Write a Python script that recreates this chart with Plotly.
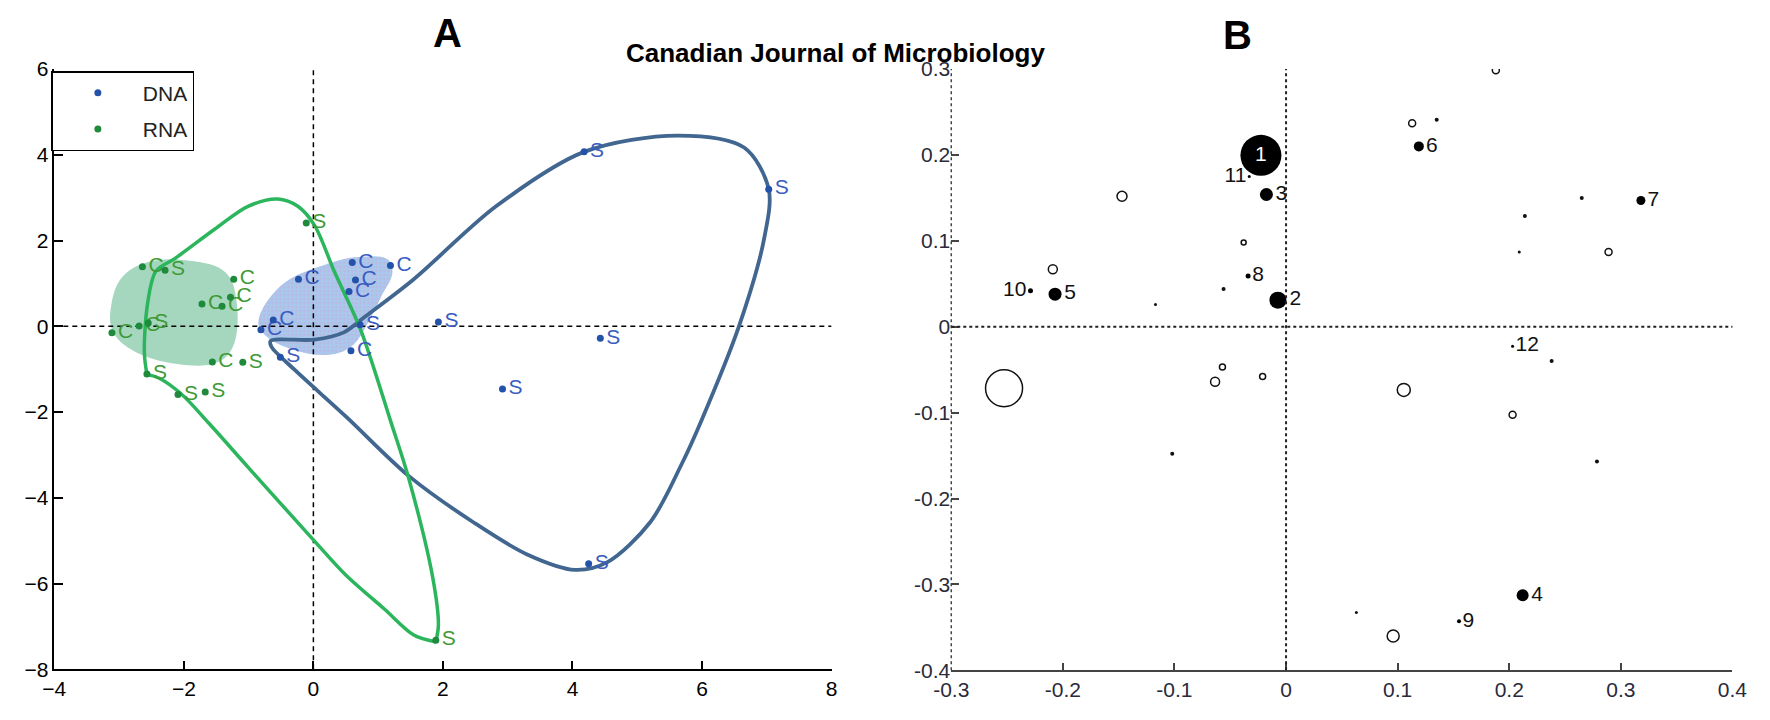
import plotly.graph_objects as go

# ---------------- Panel A data ----------------
DNA_X = [-0.23, 0.60, 1.19, 0.65, 0.55, -0.62, -0.81, -0.51, 0.58, 0.72, 1.93, 4.18, 7.03, 4.43, 2.92, 4.25]
DNA_Y = [1.10, 1.49, 1.42, 1.08, 0.81, 0.15, -0.08, -0.72, -0.57, 0.04, 0.10, 4.07, 3.20, -0.28, -1.46, -5.54]
DNA_LAB = ["C", "C", "C", "C", "C", "C", "C", "S", "C", "S", "S", "S", "S", "S", "S", "S"]

RNA_X = [-2.64, -2.29, -1.23, -1.72, -1.28, -1.41, -3.11, -2.69, -2.55, -2.57, -2.09, -1.67, -1.56, -1.09, -0.11, 1.89]
RNA_Y = [1.39, 1.31, 1.10, 0.52, 0.68, 0.47, -0.15, 0.01, 0.08, -1.11, -1.59, -1.53, -0.83, -0.84, 2.41, -7.32]
RNA_LAB = ["C", "S", "C", "C", "C", "C", "C", "C", "S", "S", "S", "S", "C", "S", "S", "S"]

# hand-drawn envelopes (trajectory curves) and shaded clusters
DNA_CURVE_X = [-0.66, 0.02, 0.47, 0.80, 1.55, 2.82, 4.18, 5.63, 6.65, 7.03, 6.96, 6.57, 5.99,
               5.69, 5.20, 4.54, 4.04, 3.30, 2.47, 1.48, 0.50, -0.30, -0.65, -0.66]
DNA_CURVE_Y = [-0.34, -0.31, -0.14, 0.23, 1.10, 2.80, 4.07, 4.45, 4.17, 3.20, 2.05, 0.00, -2.20,
               -3.20, -4.57, -5.50, -5.68, -5.32, -4.57, -3.50, -2.10, -1.00, -0.47, -0.34]

RNA_CURVE1_X = [-2.57, -2.61, -2.56, -2.43, -2.13, -1.52, -1.01, -0.55, -0.24, 0.02, 0.32, 0.73,
                1.19, 1.48, 1.85, 1.93, 1.89]
RNA_CURVE1_Y = [-1.12, -0.61, 0.53, 1.29, 1.59, 2.27, 2.80, 2.97, 2.80, 2.35, 1.29, -0.08,
                -2.20, -3.59, -5.92, -6.97, -7.36]
RNA_CURVE2_X = [1.89, 1.55, 1.10, 0.50, 0.00, -1.00, -1.62, -2.03, -2.38, -2.57]
RNA_CURVE2_Y = [-7.36, -7.20, -6.60, -5.80, -4.98, -3.30, -2.25, -1.59, -1.21, -1.12]

RNA_BLOB_X = [-3.12, -2.95, -2.55, -1.90, -1.35, -1.18, -1.25, -1.50, -2.10, -2.80, -3.10, -3.12]
RNA_BLOB_Y = [0.50, 1.15, 1.50, 1.53, 1.25, 0.50, -0.50, -0.85, -0.88, -0.55, -0.10, 0.50]
DNA_BLOB_X = [-0.85, -0.50, 0.20, 0.70, 1.15, 1.22, 1.05, 0.85, 0.60, 0.25, -0.30, -0.75, -0.85]
DNA_BLOB_Y = [0.10, 0.95, 1.45, 1.62, 1.56, 1.25, 0.70, 0.10, -0.45, -0.66, -0.55, -0.20, 0.10]

A_XRANGE = [-4, 8]
A_YRANGE = [-8, 6]
A_XTICKS = [-4, -2, 0, 2, 4, 6, 8]
A_YTICKS = [-8, -6, -4, -2, 0, 2, 4, 6]

# ---------------- Panel B data ----------------
B_LAB = ["1", "2", "3", "4", "5", "6", "7", "8", "9", "10", "11", "12"]
B_LAB_X = [-0.0225, -0.0073, -0.0176, 0.212, -0.207, 0.119, 0.318, -0.034, 0.155, -0.229, -0.033, 0.203]
B_LAB_Y = [0.1996, 0.031, 0.154, -0.3127, 0.038, 0.210, 0.147, 0.059, -0.343, 0.042, 0.175, -0.0226]
B_LAB_SIZE = [41, 17, 13, 12, 13, 10, 9, 5, 4, 5, 3, 3]

B_OPEN_X = [-0.147, -0.209, -0.2527, -0.0636, 0.1055, 0.096, 0.203, 0.188, 0.113, 0.289, -0.038, -0.057, -0.021]
B_OPEN_Y = [0.152, 0.067, -0.0716, -0.064, -0.0735, -0.360, -0.1025, 0.2987, 0.237, 0.087, 0.098, -0.047, -0.058]
B_OPEN_SIZE = [10, 9, 37, 9, 13, 12, 7, 7, 7, 7, 5, 6, 6]

B_DOT_X = [-0.056, -0.117, 0.135, 0.265, 0.214, 0.209, 0.238, -0.102, 0.2786, 0.063]
B_DOT_Y = [0.044, 0.026, 0.241, 0.150, 0.129, 0.087, -0.040, -0.148, -0.157, -0.3326]
B_DOT_SIZE = [4, 3, 4, 4, 4, 3, 4, 4, 4, 3]

B_XRANGE = [-0.3, 0.4]
B_YRANGE = [-0.4, 0.3]
B_XTICKS = [-0.3, -0.2, -0.1, 0, 0.1, 0.2, 0.3, 0.4]
B_XTICKTEXT = ["-0.3", "-0.2", "-0.1", "0", "0.1", "0.2", "0.3", "0.4"]
B_YTICKS = [-0.4, -0.3, -0.2, -0.1, 0, 0.1, 0.2, 0.3]
B_YTICKTEXT = ["-0.4", "-0.3", "-0.2", "-0.1", "0", "0.1", "0.2", "0.3"]

# ---------------- styles ----------------
FONT = "Liberation Sans, Arial, sans-serif"
BLUE_PT = "#2452a8"
BLUE_TXT = "#3a5cc0"
GREEN_PT = "#1f8a3c"
GREEN_TXT = "#3f9a35"
BLUE_LINE = "#41668f"
GREEN_LINE = "#2bb55c"

W, H = 1770, 720
fig = go.Figure()

# Panel A: shaded clusters
fig.add_trace(go.Scatter(x=RNA_BLOB_X, y=RNA_BLOB_Y, mode="lines", fill="toself",
                         fillcolor="#a5d7bf", line=dict(color="rgba(0,0,0,0)", shape="spline", smoothing=1.1),
                         showlegend=False, hoverinfo="skip", xaxis="x", yaxis="y"))
fig.add_trace(go.Scatter(x=DNA_BLOB_X, y=DNA_BLOB_Y, mode="lines", fill="toself",
                         fillcolor="#a9c7ea",
                         fillpattern=dict(shape=".", bgcolor="#aac8ec", fgcolor="#c4a9d8", size=4, solidity=0.3),
                         line=dict(color="rgba(0,0,0,0)", shape="spline", smoothing=1.1),
                         showlegend=False, hoverinfo="skip", xaxis="x", yaxis="y"))
# dashed reference lines
fig.add_trace(go.Scatter(x=A_XRANGE, y=[0, 0], mode="lines", line=dict(color="black", width=1.5, dash="5px,4px"),
                         showlegend=False, hoverinfo="skip", xaxis="x", yaxis="y"))
fig.add_trace(go.Scatter(x=[0, 0], y=A_YRANGE, mode="lines", line=dict(color="black", width=1.5, dash="5px,4px"),
                         showlegend=False, hoverinfo="skip", xaxis="x", yaxis="y"))
# curves
fig.add_trace(go.Scatter(x=DNA_CURVE_X, y=DNA_CURVE_Y, mode="lines",
                         line=dict(color=BLUE_LINE, width=3.8, shape="spline", smoothing=0.9),
                         showlegend=False, hoverinfo="skip", xaxis="x", yaxis="y"))
fig.add_trace(go.Scatter(x=RNA_CURVE1_X, y=RNA_CURVE1_Y, mode="lines",
                         line=dict(color=GREEN_LINE, width=3.5, shape="spline", smoothing=0.9),
                         showlegend=False, hoverinfo="skip", xaxis="x", yaxis="y"))
fig.add_trace(go.Scatter(x=RNA_CURVE2_X, y=RNA_CURVE2_Y, mode="lines",
                         line=dict(color=GREEN_LINE, width=3.5, shape="spline", smoothing=0.9),
                         showlegend=False, hoverinfo="skip", xaxis="x", yaxis="y"))
# labels (invisible markers + text)
fig.add_trace(go.Scatter(x=DNA_X, y=DNA_Y, mode="markers+text", text=DNA_LAB, textposition="middle right",
                         marker=dict(size=8, opacity=0), textfont=dict(family=FONT, size=21, color=BLUE_TXT),
                         showlegend=False, hoverinfo="skip", xaxis="x", yaxis="y"))
fig.add_trace(go.Scatter(x=RNA_X, y=RNA_Y, mode="markers+text", text=RNA_LAB, textposition="middle right",
                         marker=dict(size=8, opacity=0), textfont=dict(family=FONT, size=21, color=GREEN_TXT),
                         showlegend=False, hoverinfo="skip", xaxis="x", yaxis="y"))
# points (legend)
fig.add_trace(go.Scatter(x=DNA_X, y=DNA_Y, mode="markers", name="DNA",
                         marker=dict(size=7, color=BLUE_PT, opacity=1), xaxis="x", yaxis="y", legendgroup="a"))
fig.add_trace(go.Scatter(x=RNA_X, y=RNA_Y, mode="markers", name="RNA",
                         marker=dict(size=7, color=GREEN_PT, opacity=1), xaxis="x", yaxis="y", legendgroup="b"))

# Panel B
fig.add_trace(go.Scatter(x=B_OPEN_X, y=B_OPEN_Y, mode="markers",
                         marker=dict(size=B_OPEN_SIZE, color="white", opacity=1, line=dict(color="#111", width=1.5)),
                         showlegend=False, hoverinfo="skip", xaxis="x2", yaxis="y2"))
fig.add_trace(go.Scatter(x=B_DOT_X, y=B_DOT_Y, mode="markers",
                         marker=dict(size=B_DOT_SIZE, color="#111", opacity=1, line=dict(width=0)),
                         showlegend=False, hoverinfo="skip", xaxis="x2", yaxis="y2"))
b_pos = ["middle center" if l == "1" else ("middle left" if l in ("10", "11") else "middle right") for l in B_LAB]
b_col = ["white" if l == "1" else "#111" for l in B_LAB]
fig.add_trace(go.Scatter(x=B_LAB_X, y=B_LAB_Y, mode="markers+text", text=B_LAB, textposition=b_pos,
                         marker=dict(size=B_LAB_SIZE, color="black", opacity=1, line=dict(width=0)),
                         textfont=dict(family=FONT, size=21, color=b_col),
                         showlegend=False, hoverinfo="skip", xaxis="x2", yaxis="y2"))

axA = dict(showgrid=False, zeroline=False, showline=True, linecolor="black", linewidth=1.5,
           ticks="inside", ticklen=9, tickwidth=1.5, tickcolor="black",
           tickfont=dict(family=FONT, size=21, color="black"))
axB = dict(showgrid=False, zeroline=False, showline=True, linecolor="#444", linewidth=1.5,
           ticks="inside", ticklen=8, tickwidth=1.5, tickcolor="#444",
           tickfont=dict(family=FONT, size=21, color="#2a2a3a"))

fig.update_layout(
    width=W, height=H, margin=dict(l=0, r=0, t=0, b=0),
    paper_bgcolor="white", plot_bgcolor="white",
    xaxis=dict(axA, domain=[37 / W, 829 / W], range=A_XRANGE, tickvals=A_XTICKS, anchor="y"),
    yaxis=dict(axA, domain=[(H - 679) / H, (H - 59) / H], range=A_YRANGE, tickvals=A_YTICKS, anchor="x"),
    xaxis2=dict(axB, domain=[951 / W, 1747 / W], range=B_XRANGE, tickvals=B_XTICKS, ticktext=B_XTICKTEXT, anchor="y2"),
    yaxis2=dict(axB, domain=[(H - 680) / H, (H - 59) / H], range=B_YRANGE, tickvals=B_YTICKS, ticktext=B_YTICKTEXT,
                anchor="x2", showline=False),
    legend=dict(x=34 / W, y=1 - 61 / H, xanchor="left", yanchor="top", bgcolor="white",
                bordercolor="black", borderwidth=1.5, font=dict(family=FONT, size=21, color="#222"),
                itemwidth=80, entrywidth=78, entrywidthmode="pixels",
                traceorder="grouped", tracegroupgap=6),
    showlegend=True,
    shapes=[
        dict(type="line", xref="x2 domain", yref="y2 domain", x0=0, x1=0, y0=0, y1=1,
             line=dict(color="#444", width=1.5, dash="dot")),
        dict(type="line", xref="x2", yref="y2 domain", x0=0, x1=0, y0=0, y1=1,
             line=dict(color="#222", width=2, dash="dot")),
        dict(type="line", xref="x2 domain", yref="y2", x0=0, x1=1, y0=0, y1=0,
             line=dict(color="#222", width=2, dash="dot")),
    ],
    annotations=[
        dict(text="<b>A</b>", x=438 / W, y=1 - 22 / H, xref="paper", yref="paper", showarrow=False,
             font=dict(family=FONT, size=40, color="black"), xanchor="center", yanchor="middle"),
        dict(text="<b>B</b>", x=1243 / W, y=1 - 24 / H, xref="paper", yref="paper", showarrow=False,
             font=dict(family=FONT, size=40, color="black"), xanchor="center", yanchor="middle"),
        dict(text="<b>Canadian Journal of Microbiology</b>", x=833 / W, y=1 - 42 / H, xref="paper", yref="paper",
             showarrow=False, font=dict(family=FONT, size=26, color="black"), xanchor="center", yanchor="middle"),
    ],
)

fig.write_html("out.html")
